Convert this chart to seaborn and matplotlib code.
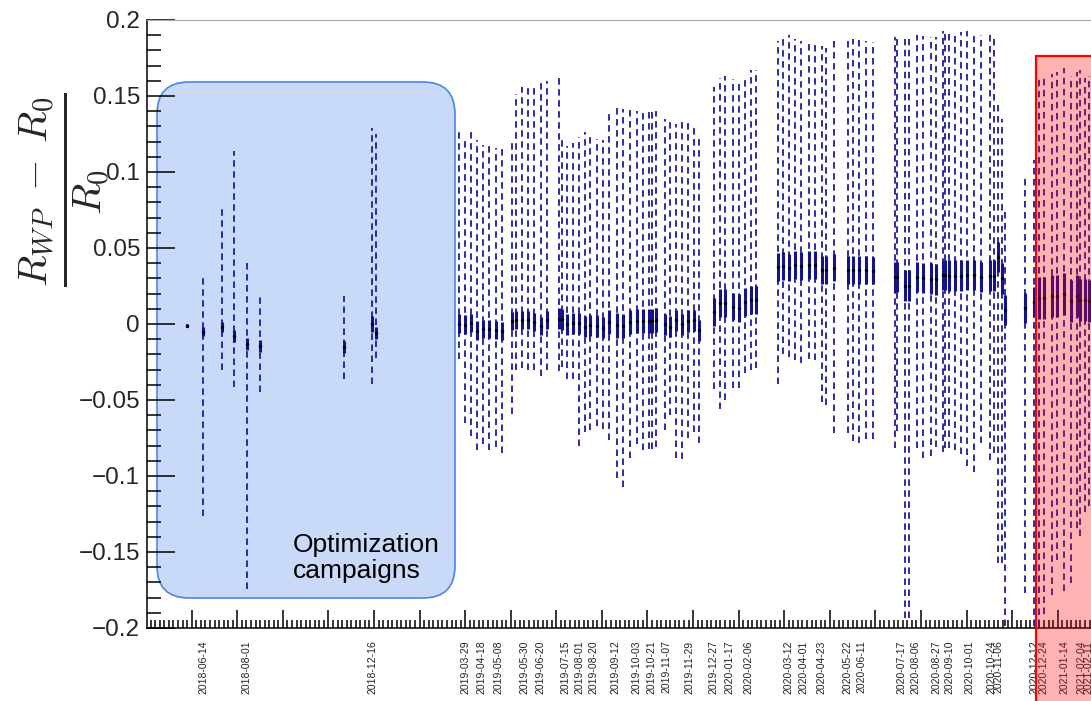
import numpy as np
import pandas as pd
import matplotlib
matplotlib.use("Agg")
import matplotlib.pyplot as plt
import seaborn as sns
from matplotlib.ticker import MultipleLocator, FuncFormatter
from matplotlib.patches import FancyBboxPatch, Rectangle
from matplotlib.transforms import IdentityTransform

# x = days since 2018-06-14
pos = [
    # 2018 optimisation campaigns
    -17.3, -0.3, 20.7, 34.3, 48.3, 63.3, 156.1, 186.4, 190.8,
    # 2019-03 .. 2019-05
    282.5, 289.2, 295.8, 302.8, 309.4, 316.0, 323.4, 330.4,
    # 2019-05 .. 2019-07
    341.1, 345.5, 352.2, 359.4, 365.7, 373.1, 380.4,
    # 2019-07 .. 2019-08
    393.4, 397.0, 402.5, 408.5, 415.8, 422.1, 427.6, 435.0, 442.3,
    # 2019-09 .. 2019-10
    449.0, 457.1, 464.4, 471.8, 479.2, 485.9, 492.8, 495.8, 500.2,
    # 2019-11
    510.5, 516.0, 522.7, 529.6, 536.2, 542.9, 548.4,
    # 2019-12 .. 2020-02
    564.6, 570.9, 577.1, 585.6, 591.9, 599.2, 605.9, 611.4,
    # 2020-03 .. 2020-06
    635.0, 640.6, 647.8, 654.5, 660.8, 669.3, 676.2, 683.6, 688.4, 697.6,
    712.4, 718.6, 725.2, 732.6, 740.0,
    # 2020-07 .. 2020-11
    764.3, 767.2, 775.4, 780.1, 788.6, 795.9, 804.1, 809.6, 818.0, 819.9,
    824.3, 830.9, 837.9, 844.5, 851.9, 859.3, 869.6, 874.0,
    # 2020-11 .. 2020-12
    878.8, 882.5, 886.2, 908.3, 918.2,
    # 2020-12 .. 2021-02
    924.1, 929.6, 937.8, 944.0, 951.4, 959.1, 965.4, 969.1, 974.6, 979.3,
]

centre = [
    -0.001, -0.005, -0.002, -0.008, -0.0134, -0.0145, -0.0151, 0.0, -0.0057,
    0.0003, -0.0004, 0.0008, -0.0043, -0.0035, -0.0035, -0.0040, -0.0048,
    0.002, 0.0024, 0.0024, 0.0024, 0.0015, -0.0013, 0.0024,
    0.0035, 0.0031, -0.0002, 0.0004, 0.0004, -0.0018, -0.0009, -0.0013, -0.0024,
    0.0013, -0.0009, -0.0013, 0.0013, 0.002, 0.002, 0.002, 0.002, 0.0026,
    -0.0002, -0.0018, 0.0024, -0.0002, 0.002, 0.0024, -0.0041,
    0.0080, 0.0139, 0.0139, 0.0114, 0.0106, 0.0145, 0.0157, 0.0157,
    0.0376, 0.0381, 0.0371, 0.0388, 0.0381, 0.0388, 0.0388, 0.0355, 0.0355, 0.0371,
    0.0355, 0.0355, 0.0355, 0.0355, 0.035,
    0.0311, 0.0311, 0.0252, 0.0252, 0.0311, 0.0304, 0.0299, 0.0293, 0.0324, 0.0324,
    0.0319, 0.0319, 0.0319, 0.0324, 0.0324, 0.0311, 0.0319, 0.0319,
    0.044, 0.030, 0.0093, 0.0106, 0.0145,
    0.017, 0.017, 0.0183, 0.0183, 0.0196, 0.015, 0.0183, 0.0157, 0.0157, 0.015,
]

lower = [
    -0.002, -0.126, -0.030, -0.0414, -0.1746, -0.0445, -0.0364, -0.0393, -0.0222,
    -0.023, -0.065, -0.074, -0.083, -0.079, -0.083, -0.081, -0.085,
    -0.059, -0.030, -0.029, -0.030, -0.030, -0.034, -0.030,
    -0.031, -0.028, -0.036, -0.036, -0.080, -0.071, -0.070, -0.067, -0.069,
    -0.076, -0.101, -0.107, -0.088, -0.079, -0.083, -0.082, -0.082, -0.081,
    -0.070, -0.060, -0.088, -0.089, -0.075, -0.071, -0.078,
    -0.043, -0.056, -0.050, -0.042, -0.042, -0.032, -0.0305, -0.029,
    -0.0395, -0.020, -0.0215, -0.024, -0.0254, -0.0228, -0.024, -0.051, -0.0536, -0.0716,
    -0.0716, -0.0767, -0.078, -0.0754, -0.0754,
    -0.0818, -0.0703, -0.1936, -0.1936, -0.0818, -0.0883, -0.0870, -0.0806, -0.0844, -0.0818,
    -0.0818, -0.0831, -0.0857, -0.0934, -0.0973, -0.0780, -0.0896, -0.085,
    -0.157, -0.157, -0.1987, -0.177, -0.199,
    -0.199, -0.191, -0.178, -0.155, -0.1756, -0.1705, -0.1345, -0.1396, -0.124, -0.120,
]

upper = [
    0.000, 0.0305, 0.0755, 0.1138, 0.042, 0.0195, 0.0184, 0.129, 0.1248,
    0.127, 0.123, 0.126, 0.121, 0.118, 0.119, 0.116, 0.118,
    0.120, 0.151, 0.156, 0.158, 0.158, 0.160, 0.160,
    0.163, 0.124, 0.117, 0.119, 0.123, 0.126, 0.124, 0.122, 0.121,
    0.1385, 0.142, 0.1415, 0.141, 0.140, 0.140, 0.140, 0.140, 0.140,
    0.1347, 0.1331, 0.1314, 0.1336, 0.1325, 0.1303, 0.1225,
    0.156, 0.162, 0.163, 0.161, 0.1595, 0.1634, 0.167, 0.167,
    0.1865, 0.1878, 0.1904, 0.1878, 0.1865, 0.1852, 0.1865, 0.1826, 0.1814, 0.187,
    0.1886, 0.1878, 0.1878, 0.1865, 0.1852,
    0.1891, 0.1891, 0.1878, 0.1878, 0.1904, 0.1896, 0.1891, 0.1891, 0.1929, 0.1922,
    0.1929, 0.1922, 0.1922, 0.1929, 0.1922, 0.1904, 0.1916, 0.188,
    0.145, 0.135, 0.0761, 0.098, 0.108,
    0.162, 0.1634, 0.1647, 0.166, 0.1685, 0.1634, 0.166, 0.1672, 0.162, 0.1634,
]

# half width of the solid (inner) error bar
stat = (
    [0.001, 0.003, 0.003, 0.004, 0.004, 0.004, 0.004, 0.005, 0.004]
    + [0.006] * 15 + [0.007] * 9 + [0.008] * 9 + [0.007] * 7
    + [0.009] * 8 + [0.009] * 15 + [0.010] * 18 + [0.010] * 5 + [0.014] * 10
)

date_labels = [
    "2018-06-14", "2018-08-01", "2018-12-16",
    "2019-03-29", "2019-04-18", "2019-05-08", "2019-05-30", "2019-06-20",
    "2019-07-15", "2019-08-01", "2019-08-20", "2019-09-12", "2019-10-03",
    "2019-10-21", "2019-11-07", "2019-11-29", "2019-12-27", "2020-01-17",
    "2020-02-06", "2020-03-12", "2020-04-01", "2020-04-23", "2020-05-22",
    "2020-06-11", "2020-07-17", "2020-08-06", "2020-08-27", "2020-09-10",
    "2020-10-01", "2020-10-24", "2020-11-06", "2020-12-12", "2020-12-24",
    "2021-01-14", "2021-02-04", "2021-02-11",
]
label_pos = [
    0.3, 47.5, 187.5,
    289.5, 308.0, 326.3, 354.7, 373.1,
    400.0, 415.8, 431.3, 456.0, 479.2,
    495.0, 511.6, 537.3, 563.9, 581.5,
    602.5, 646.7, 663.3, 682.9, 711.9,
    727.8, 771.3, 787.5, 810.7, 824.6,
    846.4, 871.5, 878.8, 918.2, 928.5,
    951.4, 971.0, 978.0,
]

df = pd.DataFrame({"day": pos, "centre": centre, "lower": lower,
                   "upper": upper, "stat": stat})

sns.set_style("white")
plt.rcParams["font.family"] = ["Liberation Sans", "DejaVu Sans"]
plt.rcParams["mathtext.fontset"] = "cm"

W, H = 1091, 701
fig = plt.figure(figsize=(W / 100, H / 100), dpi=100)
px = IdentityTransform()

# blue box sits under the data
blue_box = FancyBboxPatch((157, H - 598), 298, 516,
                          boxstyle="round,pad=0,rounding_size=32",
                          facecolor="#c9daf8", edgecolor="#4a86e8",
                          linewidth=1.2, transform=px, zorder=-1)
fig.add_artist(blue_box)

# axes runs past the right edge of the picture (cropped original)
ax = fig.add_axes([147 / W, 1 - 628 / H, (1200 - 147) / W, (628 - 20) / H])
ax.patch.set_alpha(0)
ax.set_xlim(-61.9, 1101.7)
ax.set_ylim(-0.2, 0.2)

navy = "#1c1c98"
ax.vlines(df["day"], df["lower"], df["upper"], colors=navy, linewidth=1.3,
          linestyles=(0, (3.6, 2.5)), zorder=2)
ax.vlines(df["day"], df["centre"] - df["stat"], df["centre"] + df["stat"],
          colors="#14148a", linewidth=2.2, zorder=3)
sns.scatterplot(data=df, x="day", y="centre", color="black", s=6,
                linewidth=0, ax=ax, zorder=4, legend=False)

# axes styling (ROOT-like)
ax.set_xlabel("")
ax.set_ylabel("")
ax.yaxis.set_major_locator(MultipleLocator(0.05))
ax.yaxis.set_minor_locator(MultipleLocator(0.01))
ax.yaxis.set_major_formatter(FuncFormatter(
    lambda v, p: "0" if abs(v) < 1e-9 else f"{v:g}".replace("-", "\u2212")))
ax.xaxis.set_major_locator(MultipleLocator(50.365, offset=-12.49))
ax.xaxis.set_minor_locator(MultipleLocator(5.0365, offset=-12.49))
ax.tick_params(axis="both", which="both", direction="in", color="black",
               width=1.1, bottom=True, left=True, top=False, right=False,
               labelbottom=False)
ax.tick_params(axis="y", which="major", length=20, labelsize=17.5, pad=5)
ax.tick_params(axis="y", which="minor", length=10)
ax.tick_params(axis="x", which="major", length=13)
ax.tick_params(axis="x", which="minor", length=6)
for s in ["left", "bottom"]:
    ax.spines[s].set_color("black")
    ax.spines[s].set_linewidth(1.1)
ax.spines["top"].set_color("#aaaaaa")
ax.spines["top"].set_linewidth(0.8)
ax.spines["right"].set_visible(False)

for lbl, x in zip(date_labels, label_pos):
    ax.annotate(lbl, xy=(x, 0), xycoords=("data", "axes fraction"),
                xytext=(0, -9), textcoords="offset points", rotation=90,
                ha="center", va="top", fontsize=7.5, color="#222222")

fig.text(64, H - 190, r"$\frac{R_{WP}\;-\;R_{0}}{R_{0}}$", rotation=90,
         ha="center", va="center", fontsize=42, transform=px)

fig.text(293, H - 558, "Optimization\ncampaigns", fontsize=19, ha="left",
         va="center", linespacing=1.1, color="black", transform=px, zorder=6)

# red box is a translucent overlay
red_box = Rectangle((1036, -20), 200, H - 56 + 20,
                    facecolor=(1.0, 0.0, 0.0, 0.3), edgecolor="red",
                    linewidth=1.6, transform=px, zorder=6)
fig.add_artist(red_box)

fig.savefig("out.png", dpi=100)
